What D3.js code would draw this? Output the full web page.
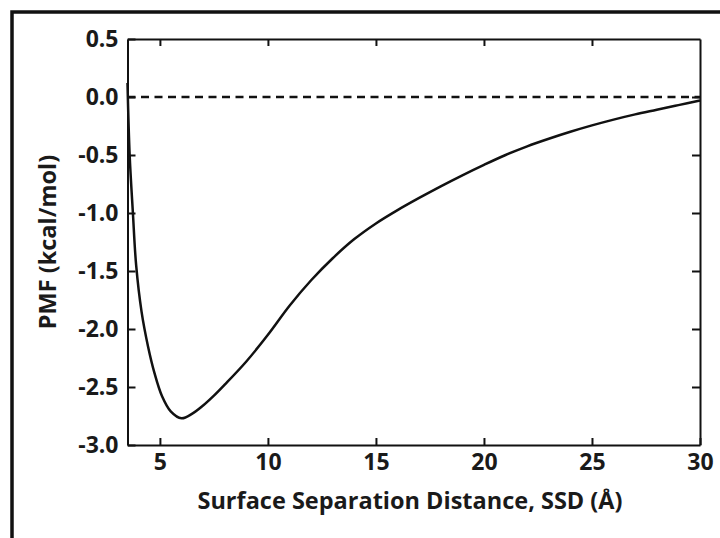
<!DOCTYPE html>
<html>
<head>
<meta charset="utf-8">
<script src="https://cdn.jsdelivr.net/npm/d3@7"></script>
<style>
  html, body { margin: 0; padding: 0; background: #fff; }
  svg { display: block; }
  text { font-family: "Open Sans", "DejaVu Sans", sans-serif; font-weight: bold; fill: #1a1a1a; }
</style>
</head>
<body>
<div id="chart"></div>
<script>
// separation distance (Å) and PMF (kcal/mol)
const ssd = [3.5, 3.6, 3.75, 3.9, 4.15, 4.45, 4.75, 5.1, 5.5, 6.0, 6.5, 7.0, 7.5, 8.0, 9, 10, 11, 12, 13, 14,
             15, 16, 17, 18, 19, 20, 21, 22, 23, 24, 25, 26, 27, 28, 29, 30];
const pmf = [0.12, -0.5, -1.0, -1.45, -1.85, -2.15, -2.38, -2.58, -2.71, -2.77, -2.73, -2.66, -2.575, -2.48, -2.28, -2.05, -1.80, -1.58, -1.39, -1.225,
             -1.09, -0.975, -0.87, -0.77, -0.675, -0.585, -0.50, -0.425, -0.36, -0.30, -0.245, -0.195, -0.15, -0.11, -0.07, -0.03];
const xTicks = [5, 10, 15, 20, 25, 30];
const xInnerTicks = [5, 10, 15, 20, 25];
const yTicks = [-3.0, -2.5, -2.0, -1.5, -1.0, -0.5, 0.0, 0.5];
const xDomain = [3.5, 30];
const yDomain = [-3.0, 0.5];

const W = 720, H = 538;
const margin = { top: 39, right: 20, bottom: 93, left: 127.5 };

const svg = d3.select("#chart").append("svg")
    .attr("width", W)
    .attr("height", H);

// outer frame around the whole figure (right/bottom run off the picture)
svg.append("rect")
    .attr("x", 12).attr("y", 12)
    .attr("width", 740).attr("height", 540)
    .attr("fill", "none")
    .attr("stroke", "#111")
    .attr("stroke-width", 3.5);

const x = d3.scaleLinear().domain(xDomain).range([margin.left, W - margin.right]);
const y = d3.scaleLinear().domain(yDomain).range([H - margin.bottom, margin.top]);

const fmt = d => d.toFixed(1);

function styleAxis(g) {
    g.selectAll(".domain").attr("stroke", "#111").attr("stroke-width", 2);
    g.selectAll(".tick line").attr("stroke", "#111").attr("stroke-width", 2);
    g.selectAll("text")
        .attr("font-family", null)
        .style("font-size", "23px")
        .attr("fill", "#1a1a1a");
}

// bottom axis with labels
svg.append("g")
    .attr("transform", `translate(0,${y(yDomain[0])})`)
    .call(d3.axisBottom(x).tickValues(xTicks).tickSize(-7).tickSizeOuter(0).tickPadding(9).tickFormat(d3.format("d")))
    .call(styleAxis);

// top axis, ticks only
svg.append("g")
    .attr("transform", `translate(0,${y(yDomain[1])})`)
    .call(d3.axisTop(x).tickValues(xInnerTicks).tickSize(-7).tickSizeOuter(0).tickFormat(""))
    .call(styleAxis);

// left axis with labels
svg.append("g")
    .attr("transform", `translate(${x(xDomain[0])},0)`)
    .call(d3.axisLeft(y).tickValues(yTicks).tickSize(-8).tickSizeOuter(0).tickPadding(9).tickFormat(fmt))
    .call(styleAxis);

// right axis, ticks only
svg.append("g")
    .attr("transform", `translate(${x(xDomain[1])},0)`)
    .call(d3.axisRight(y).tickValues(yTicks.slice(1, -1)).tickSize(-8).tickSizeOuter(0).tickFormat(""))
    .call(styleAxis);

// zero reference line
svg.append("line")
    .attr("x1", x(xDomain[0])).attr("x2", x(xDomain[1]))
    .attr("y1", y(0)).attr("y2", y(0))
    .attr("stroke", "#111")
    .attr("stroke-width", 2.5)
    .attr("stroke-dasharray", "8,5.5");

// PMF curve
const points = ssd.map((d, i) => [d, pmf[i]]);
const line = d3.line()
    .x(d => x(d[0]))
    .y(d => y(d[1]))
    .curve(d3.curveCatmullRom.alpha(0.5));

svg.append("path")
    .datum(points)
    .attr("fill", "none")
    .attr("stroke", "#111")
    .attr("stroke-width", 2.5)
    .attr("d", line);

// axis titles
svg.append("text")
    .attr("x", 410)
    .attr("y", 509)
    .attr("text-anchor", "middle")
    .style("font-size", "23.5px")
    .text("Surface Separation Distance, SSD (Å)");

svg.append("text")
    .attr("transform", `translate(56,${(y(yDomain[0]) + y(yDomain[1])) / 2}) rotate(-90)`)
    .attr("text-anchor", "middle")
    .style("font-size", "23.5px")
    .text("PMF (kcal/mol)");
</script>
</body>
</html>
